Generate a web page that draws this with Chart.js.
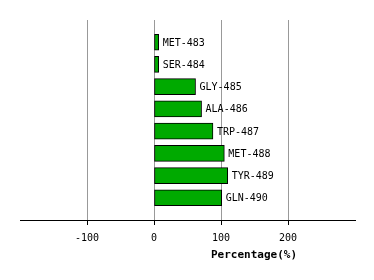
<!DOCTYPE html>
<html>
<head>
<meta charset="utf-8">
<script src="https://cdn.jsdelivr.net/npm/chart.js@4/dist/chart.umd.min.js"></script>
<style>
  body { margin: 0; background: #fff; }
  canvas { display: block; }
</style>
</head>
<body>
<canvas id="residueChart" width="374" height="280"></canvas>
<script>
// residues and their percentage values
let residues = ['MET-483', 'SER-484', 'GLY-485', 'ALA-486', 'TRP-487', 'MET-488', 'TYR-489', 'GLN-490'];
let percentages = [7, 7, 62, 71, 88, 105, 110, 101];
let xTicks = [-100, 0, 100, 200];

let monoFont = "'DejaVu Sans Mono', monospace";

// one empty slot above and below, so the bars sit like in the original
let slotLabels = [''].concat(residues, ['']);
let slotData = [null].concat(percentages, [null]);

let barLabels = {
  id: 'barLabels',
  afterDatasetsDraw(chart) {
    let ctx = chart.ctx;
    let meta = chart.getDatasetMeta(0);
    ctx.save();
    ctx.font = '10px ' + monoFont;
    ctx.fillStyle = '#000';
    ctx.textBaseline = 'middle';
    ctx.textAlign = 'left';
    meta.data.forEach(function (bar, i) {
      if (slotData[i] === null) return;
      ctx.fillText(slotLabels[i], bar.x + 4, bar.y + 1);
    });
    ctx.restore();
  }
};

let axisTitle = {
  id: 'axisTitle',
  afterDraw(chart) {
    let ctx = chart.ctx;
    ctx.save();
    ctx.font = 'bold 11px ' + monoFont;
    ctx.fillStyle = '#000';
    ctx.textAlign = 'center';
    ctx.textBaseline = 'middle';
    ctx.fillText('Percentage(%)', 254, 255);
    ctx.restore();
  }
};

let ctx = document.getElementById('residueChart').getContext('2d');

new Chart(ctx, {
  type: 'bar',
  data: {
    labels: slotLabels,
    datasets: [
      {
        data: slotData,
        backgroundColor: '#00aa00',
        borderColor: '#000',
        borderWidth: 1,
        borderSkipped: false,
        barThickness: 16
      }
    ]
  },
  options: {
    indexAxis: 'y',
    responsive: false,
    animation: false,
    layout: {
      padding: { left: 20, right: 19, top: 20, bottom: 29 }
    },
    plugins: {
      legend: { display: false },
      tooltip: { enabled: false }
    },
    scales: {
      x: {
        min: -200,
        max: 300,
        afterBuildTicks: function (scale) {
          scale.ticks = xTicks.map(function (v) { return { value: v }; });
        },
        grid: {
          color: '#999',
          tickColor: '#000',
          tickLength: 5,
          drawTicks: true
        },
        border: { color: '#000', width: 1 },
        ticks: {
          color: '#000',
          padding: 7,
          maxRotation: 0,
          font: { family: monoFont, size: 10 }
        }
      },
      y: {
        display: false,
        offset: false
      }
    }
  },
  plugins: [barLabels, axisTitle]
});
</script>
</body>
</html>
